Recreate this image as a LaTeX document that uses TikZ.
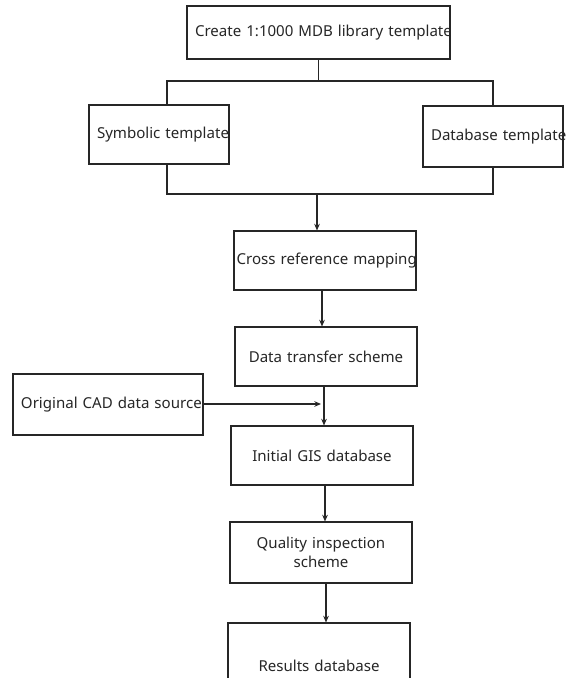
\documentclass[tikz,border=0pt]{standalone}
\usepackage{fontspec}
\setmainfont{Noto Sans}
\usetikzlibrary{arrows.meta}
\tikzset{
  stepbox/.style={draw,inner xsep=6pt,inner ysep=0pt,align=center,
    font=\fontsize{11.3}{14.25}\selectfont},
}
\begin{document}
\begin{tikzpicture}[>={Stealth[length=5pt,width=4.2pt]},x=0.75pt,y=-0.75pt,line width=0.8pt,black!85]
	\useasboundingbox (0,0) rectangle (576,678);
	\clip (0,0) rectangle (576,678);
	% boxes (centres in pixels of the 576x678 page)
	\node[stepbox,text width=185.25pt,minimum height=39.75pt] (top) at (318.5,32.5) {\mbox{Create 1:1000 MDB library template}};
	\node[stepbox,text width=93pt,minimum height=44.25pt] (sym) at (159,134.5) {\mbox{Symbolic template}};
	\node[stepbox,text width=93pt,minimum height=45.75pt] (db) at (493,136.5) {\mbox{Database template}};
	\node[stepbox,inner xsep=2pt,text width=132.5pt,minimum height=44.25pt] (cross) at (325,260.5) {\mbox{Cross reference mapping}};
	\node[stepbox,text width=124.5pt,minimum height=44.25pt] (data) at (326,356.5) {\mbox{Data transfer scheme}};
	\node[stepbox,text width=130.5pt,minimum height=45.75pt] (cad) at (108,404.5) {\mbox{Original CAD data source}};
	\node[stepbox,text width=124.5pt,minimum height=44.25pt] (init) at (322,455.5) {\mbox{Initial GIS database}};
	\node[stepbox,text width=124.5pt,minimum height=45.75pt] (qual) at (321,552.5) {Quality inspection\\scheme};
	\node[stepbox,text width=124.5pt,minimum height=64.5pt] (res) at (319,666) {\mbox{Results database}};
	% branch lines
	\coordinate (lt) at (167,81);
	\coordinate (rt) at (493,81);
	\coordinate (lb) at (167,194);
	\coordinate (rb) at (493,194);
	\coordinate (mb) at (317,194);
	\coordinate (join) at (321,404);
	\draw (top.south) -- (top.south |- lt);
	\draw (sym.north -| lt) -- (lt) -- (rt) -- (db.north -| rt);
	\draw (sym.south -| lb) -- (lb) -- (rb) -- (db.south -| rb);
	% arrows
	\draw[->] (mb) -- (cross.north -| mb);
	\draw[->] ([xshift=-2.25pt]cross.south) -- ([xshift=-2.25pt]cross.south |- data.north);
	\draw[->] ([xshift=-1.5pt]data.south) -- ([xshift=-1.5pt]data.south |- init.north);
	\draw[->] ([xshift=2.25pt]init.south) -- ([xshift=2.25pt]init.south |- qual.north);
	\draw[->] ([xshift=3.75pt]qual.south) -- ([xshift=3.75pt]qual.south |- res.north);
	\draw[->] (cad.east |- join) -- (join);
\end{tikzpicture}
\end{document}
